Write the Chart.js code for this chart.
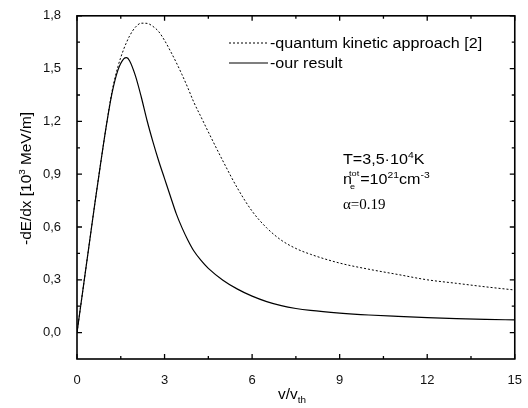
<!DOCTYPE html>
<html>
<head>
<meta charset="utf-8">
<script src="https://cdn.jsdelivr.net/npm/chart.js@4"></script>
<style>
  html, body { margin: 0; padding: 0; background: #fff; }
  #wrap { width: 528px; height: 408px; }
</style>
</head>
<body>
<div id="wrap"><canvas id="chart" width="528" height="408"></canvas></div>
<script>
// v/v_th sample points
const velocity = [0, 0.2, 0.4, 0.6, 0.8, 1.0, 1.2, 1.4, 1.6, 1.7, 1.8, 2.0, 2.2, 2.4, 2.6, 2.8, 3.0,
                  3.2, 3.4, 3.6, 3.8, 4.0, 4.25, 4.5, 5.0, 5.5, 6.0, 6.5, 7.0, 7.5, 8.0, 9, 10, 11, 12, 13, 14, 15];
// -dE/dx, 10^3 MeV/m
const quantumKinetic = [0, 0.24, 0.48, 0.72, 0.95, 1.17, 1.37, 1.51, 1.61, 1.65, 1.685, 1.735, 1.758, 1.757, 1.74, 1.71, 1.66,
                        1.60, 1.535, 1.465, 1.39, 1.31, 1.225, 1.14, 0.975, 0.82, 0.69, 0.595, 0.525, 0.478, 0.445, 0.395, 0.36, 0.33, 0.30, 0.28, 0.26, 0.242];
const ourResult = [0, 0.24, 0.48, 0.72, 0.95, 1.17, 1.36, 1.49, 1.555, 1.562, 1.545, 1.46, 1.34, 1.205, 1.085, 0.975, 0.875,
                   0.775, 0.676, 0.595, 0.525, 0.465, 0.41, 0.365, 0.298, 0.247, 0.207, 0.176, 0.153, 0.137, 0.126, 0.111, 0.100, 0.092, 0.085, 0.079, 0.075, 0.072];
const xTickValues = [0, 3, 6, 9, 12, 15];
const yTickValues = [0, 0.3, 0.6, 0.9, 1.2, 1.5, 1.8];

function toPoints(ys) {
  return velocity.map((v, i) => ({ x: v, y: ys[i] }));
}

// draw a run of text pieces (normal / sup / sub), stretched a bit horizontally
function drawRun(ctx, x, y, parts, sx) {
  let cx = x;
  parts.forEach(p => {
    ctx.save();
    ctx.font = p.font;
    ctx.translate(cx, y + (p.dy || 0));
    ctx.scale(sx, 1);
    ctx.fillText(p.t, 0, 0);
    const w = ctx.measureText(p.t).width * sx;
    ctx.restore();
    cx += w;
  });
  return cx;
}

const frameTicks = {
  id: 'frameTicks',
  afterDraw(chart) {
    const ctx = chart.ctx;
    const a = chart.chartArea;
    const xs = chart.scales.x, ys = chart.scales.y;
    ctx.save();
    ctx.strokeStyle = '#000';
    ctx.lineWidth = 1.6;
    ctx.strokeRect(a.left, a.top, a.right - a.left, a.bottom - a.top);
    ctx.lineWidth = 1.3;
    ctx.beginPath();
    // x ticks: majors + minors at midpoints, bottom and top
    for (let i = 0; i < xTickValues.length; i++) {
      const px = xs.getPixelForValue(xTickValues[i]);
      ctx.moveTo(px, a.bottom); ctx.lineTo(px, a.bottom - 5);
      ctx.moveTo(px, a.top); ctx.lineTo(px, a.top + 5);
      if (i < xTickValues.length - 1) {
        const pm = xs.getPixelForValue((xTickValues[i] + xTickValues[i + 1]) / 2);
        ctx.moveTo(pm, a.bottom); ctx.lineTo(pm, a.bottom - 3);
        ctx.moveTo(pm, a.top); ctx.lineTo(pm, a.top + 3);
      }
    }
    // y ticks, left and right
    for (let i = 0; i < yTickValues.length; i++) {
      const py = ys.getPixelForValue(yTickValues[i]);
      ctx.moveTo(a.left, py); ctx.lineTo(a.left + 5, py);
      ctx.moveTo(a.right, py); ctx.lineTo(a.right - 5, py);
      if (i < yTickValues.length - 1) {
        const pm = ys.getPixelForValue((yTickValues[i] + yTickValues[i + 1]) / 2);
        ctx.moveTo(a.left, pm); ctx.lineTo(a.left + 3, pm);
        ctx.moveTo(a.right, pm); ctx.lineTo(a.right - 3, pm);
      }
    }
    ctx.stroke();
    ctx.restore();
  }
};

const textLayer = {
  id: 'textLayer',
  afterDraw(chart) {
    const ctx = chart.ctx;
    const sans = 'Liberation Sans, Arial, sans-serif';
    const sx = 1.15;
    ctx.save();
    ctx.fillStyle = '#000';
    ctx.strokeStyle = '#000';
    ctx.textBaseline = 'alphabetic';
    ctx.textAlign = 'left';

    // legend
    ctx.lineWidth = 1;
    ctx.setLineDash([2, 2]);
    ctx.beginPath(); ctx.moveTo(229, 43); ctx.lineTo(268, 43); ctx.stroke();
    ctx.setLineDash([]);
    ctx.lineWidth = 1.2;
    ctx.beginPath(); ctx.moveTo(229, 63); ctx.lineTo(268, 63); ctx.stroke();
    drawRun(ctx, 270, 48, [{ t: '-quantum kinetic approach [2]', font: '14px ' + sans }], sx);
    drawRun(ctx, 270, 68, [{ t: '-our result', font: '14px ' + sans }], sx);

    // conditions
    drawRun(ctx, 343, 164, [
      { t: 'T=3,5\u00b710', font: '14px ' + sans },
      { t: '4', font: '9px ' + sans, dy: -6 },
      { t: 'K', font: '14px ' + sans }
    ], sx);
    let cx = drawRun(ctx, 343, 184, [{ t: 'n', font: '14px ' + sans }], sx);
    drawRun(ctx, cx - 2, 189, [{ t: 'e', font: '8px ' + sans }], sx);
    cx = drawRun(ctx, cx - 3, 176, [{ t: 'tot', font: '8px ' + sans }], sx);
    drawRun(ctx, cx + 1, 184, [
      { t: '=10', font: '14px ' + sans },
      { t: '21', font: '9px ' + sans, dy: -6 },
      { t: 'cm', font: '14px ' + sans },
      { t: '-3', font: '9px ' + sans, dy: -6 }
    ], sx);
    drawRun(ctx, 343, 209, [{ t: '\u03b1=0.19', font: '15px Liberation Serif, Times New Roman, serif' }], 1.0);

    // x title
    const xEnd = drawRun(ctx, 278, 399, [{ t: 'v/v', font: '14px ' + sans }], 1.1);
    drawRun(ctx, xEnd, 403, [{ t: 'th', font: '9px ' + sans }], 1.1);

    // y title
    ctx.translate(31, 245);
    ctx.rotate(-Math.PI / 2);
    drawRun(ctx, 0, 0, [
      { t: '-dE/dx [10', font: '14px ' + sans },
      { t: '3', font: '9px ' + sans, dy: -6 },
      { t: ' MeV/m]', font: '14px ' + sans }
    ], 1.1);
    ctx.restore();
  }
};

new Chart(document.getElementById('chart'), {
  type: 'line',
  data: {
    datasets: [
      {
        label: '-quantum kinetic approach [2]',
        data: toPoints(quantumKinetic),
        borderColor: '#000',
        borderWidth: 1,
        borderDash: [2, 2],
        pointRadius: 0,
        cubicInterpolationMode: 'monotone'
      },
      {
        label: '-our result',
        data: toPoints(ourResult),
        borderColor: '#000',
        borderWidth: 1.2,
        pointRadius: 0,
        cubicInterpolationMode: 'monotone'
      }
    ]
  },
  options: {
    responsive: false,
    animation: false,
    devicePixelRatio: 1,
    layout: { padding: { top: 14, right: 12, left: 0, bottom: 0 } },
    plugins: {
      legend: { display: false },
      tooltip: { enabled: false }
    },
    scales: {
      x: {
        type: 'linear',
        min: 0,
        max: 15,
        grid: { display: false },
        border: { display: false },
        afterBuildTicks: s => { s.ticks = xTickValues.map(v => ({ value: v })); },
        afterFit: s => { s.height = 49; },
        ticks: {
          padding: 6,
          maxRotation: 0,
          color: '#111',
          font: { family: 'Liberation Sans, Arial, sans-serif', size: 13 },
          callback: v => String(v)
        }
      },
      y: {
        min: -0.15,
        max: 1.8,
        grid: { display: false },
        border: { display: false },
        afterBuildTicks: s => { s.ticks = yTickValues.map(v => ({ value: v })); },
        afterFit: s => { s.width = 77; },
        ticks: {
          padding: 8,
          color: '#111',
          font: { family: 'Liberation Sans, Arial, sans-serif', size: 13 },
          callback: v => v.toFixed(1).replace('.', ',')
        }
      }
    }
  },
  plugins: [frameTicks, textLayer]
});
</script>
</body>
</html>
